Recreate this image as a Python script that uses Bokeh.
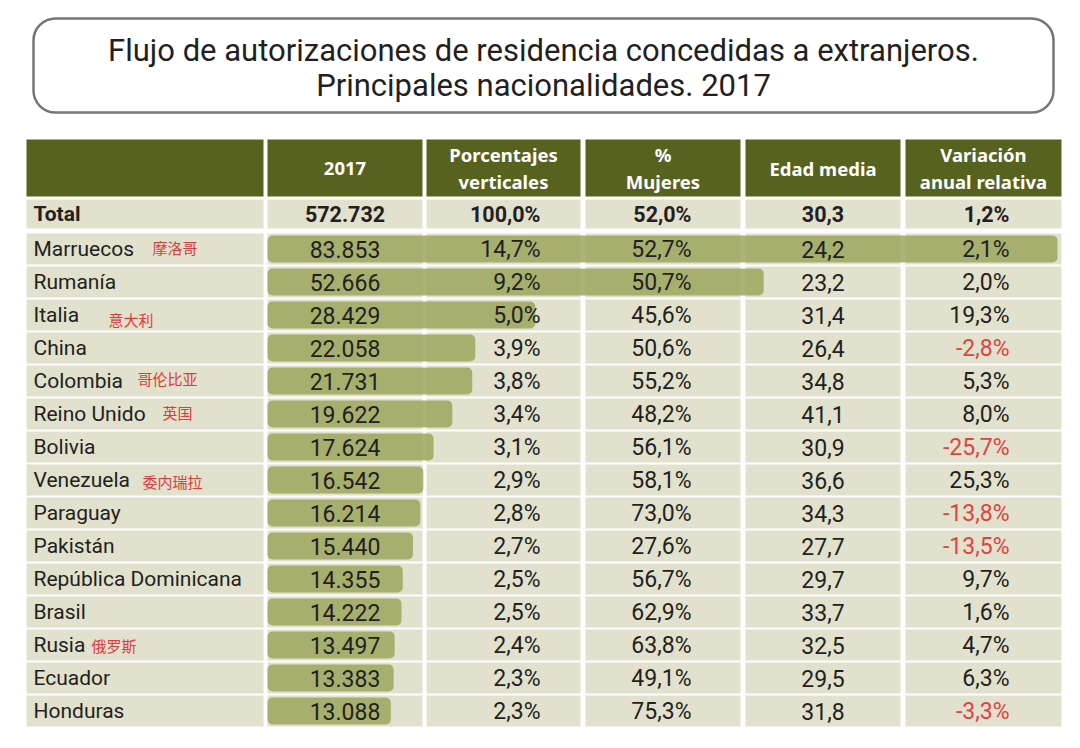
from bokeh.plotting import figure
from bokeh.models import Range1d, ColumnDataSource
from bokeh.core.properties import value
from bokeh.embed import file_html
from bokeh.resources import INLINE

# ---------------- data ----------------
title_lines = ["Flujo de autorizaciones de residencia concedidas a extranjeros.",
               "Principales nacionalidades. 2017"]
headers = ["", "2017", "Porcentajes\nverticales", "%\nMujeres", "Edad media", "Variación\nanual relativa"]

total_label = "Total"
total_value = 572732
total_pct_vert = 100.0
total_pct_mujeres = 52.0
total_edad = 30.3
total_variacion = 1.2

countries = ["Marruecos", "Rumanía", "Italia", "China", "Colombia", "Reino Unido", "Bolivia",
             "Venezuela", "Paraguay", "Pakistán", "República Dominicana", "Brasil", "Rusia",
             "Ecuador", "Honduras"]
values_2017 = [83853, 52666, 28429, 22058, 21731, 19622, 17624, 16542, 16214, 15440, 14355,
               14222, 13497, 13383, 13088]
pct_vert = [14.7, 9.2, 5.0, 3.9, 3.8, 3.4, 3.1, 2.9, 2.8, 2.7, 2.5, 2.5, 2.4, 2.3, 2.3]
pct_mujeres = [52.7, 50.7, 45.6, 50.6, 55.2, 48.2, 56.1, 58.1, 73.0, 27.6, 56.7, 62.9, 63.8, 49.1, 75.3]
edad_media = [24.2, 23.2, 31.4, 26.4, 34.8, 41.1, 30.9, 36.6, 34.3, 27.7, 29.7, 33.7, 32.5, 29.5, 31.8]
variacion = [2.1, 2.0, 19.3, -2.8, 5.3, 8.0, -25.7, 25.3, -13.8, -13.5, 9.7, 1.6, 4.7, 6.3, -3.3]

chinese_notes = {"Marruecos": "摩洛哥", "Italia": "意大利", "Colombia": "哥伦比亚",
                 "Reino Unido": "英国", "Venezuela": "委内瑞拉", "Rusia": "俄罗斯"}

# ---------------- layout (pixel space) ----------------
W, H = 1064, 732
X0, Y0 = 0, 0
col_left = [26, 267, 426, 585, 745, 905]
col_right = [263, 422, 580, 740, 900, 1061]
HEAD_TOP, HEAD_BOT = 139, 196
TOT_TOP, TOT_BOT = 199, 228
ROW0, PITCH, ROW_H = 248.5, 33.0, 31
BAR_H = 27
BAR_START, BAR_END = 267, 1057
note_x = {"Marruecos": 152, "Italia": 108, "Colombia": 137, "Reino Unido": 162,
          "Venezuela": 142, "Rusia": 91}
note_dy = {"Marruecos": -2, "Italia": 4, "Colombia": -3, "Reino Unido": -2,
           "Venezuela": 1, "Rusia": 0}

HEAD_COLOR = "#58621f"
CELL_COLOR = "#e1e1cd"
BAR_COLOR = "#9ea762"
TEXT_COLOR = "#231f20"
NEG_COLOR = "#e2413f"
FONT = "Roboto"
FS_NAME = "21px"
FS_NUM = "23px"

def fmt_int(v):
    return f"{v:,}".replace(",", ".")

def fmt_dec(v):
    return f"{v:.1f}".replace(".", ",")

def fmt_pct(v):
    return fmt_dec(v) + "%"

p = figure(width=W, height=H, x_range=Range1d(X0, X0 + W), y_range=Range1d(Y0 + H, Y0),
           output_backend="svg", toolbar_location=None, min_border=0,
           x_axis_location=None, y_axis_location=None)
p.grid.visible = False
p.outline_line_color = None
p.background_fill_color = "white"
p.border_fill_color = "white"

# extra range for bars: 0 -> BAR_START, max -> BAR_END
vmax = max(values_2017)
s = (BAR_END - BAR_START) / vmax
p.extra_x_ranges = {"val": Range1d(start=-(BAR_START - X0) / s, end=(X0 + W - BAR_START) / s)}

# title box
p.quad(left=[33], right=[1053], top=[18], bottom=[112], fill_color="white",
       line_color="#767676", line_width=2.5, border_radius=22)
p.text(x=[543, 543], y=[50, 85], text=title_lines, text_align="center", text_baseline="middle",
       text_font=value(FONT), text_font_size="31px", text_color=TEXT_COLOR)

# header cells
p.quad(left=col_left, right=col_right, top=[HEAD_TOP] * 6, bottom=[HEAD_BOT] * 6,
       fill_color=HEAD_COLOR, line_color=None)
hx = [(l + r) / 2 for l, r in zip(col_left, col_right)]
p.text(x=hx[1:], y=[(HEAD_TOP + HEAD_BOT) / 2] * 5, text=headers[1:], text_align="center",
       text_baseline="middle", text_font=value("Noto Sans"), text_font_size="18.5px",
       text_font_style="bold", text_color="white", text_line_height=1.05)

# total row + data row cells
row_y = [ROW0 + PITCH * i for i in range(len(countries))]
cl, cr, ct, cb = [], [], [], []
for j in range(6):
    cl.append(col_left[j]); cr.append(col_right[j]); ct.append(TOT_TOP); cb.append(TOT_BOT)
    for y in row_y:
        cl.append(col_left[j]); cr.append(col_right[j])
        ct.append(y - ROW_H / 2); cb.append(y + ROW_H / 2)
p.quad(left=cl, right=cr, top=ct, bottom=cb, fill_color=CELL_COLOR, line_color=None)

# bars
bars = ColumnDataSource(dict(y=row_y, v=values_2017))
p.hbar(y="y", left=0, right="v", height=BAR_H, source=bars, x_range_name="val",
       fill_color=BAR_COLOR, fill_alpha=0.88, line_color=None, border_radius=5)

# total row text
ty = (TOT_TOP + TOT_BOT) / 2
p.text(x=[33], y=[ty], text=[total_label], text_align="left", text_baseline="middle",
       text_font=value(FONT), text_font_size=FS_NAME, text_font_style="bold", text_color=TEXT_COLOR)
p.text(x=[hx[1], 540, 691, hx[4], 1009], y=[ty] * 5,
       text=[fmt_int(total_value), fmt_pct(total_pct_vert), fmt_pct(total_pct_mujeres),
             fmt_dec(total_edad), fmt_pct(total_variacion)],
       text_align=["center", "right", "right", "center", "right"], text_baseline="middle",
       text_font=value(FONT), text_font_size="21.5px", text_font_style="bold", text_color=TEXT_COLOR)

# data rows text
src = ColumnDataSource(dict(
    y=row_y,
    name=countries,
    v=[fmt_int(v) for v in values_2017],
    pv=[fmt_pct(v) for v in pct_vert],
    pm=[fmt_pct(v) for v in pct_mujeres],
    ed=[fmt_dec(v) for v in edad_media],
    va=[fmt_pct(v) for v in variacion],
    vc=[NEG_COLOR if v < 0 else TEXT_COLOR for v in variacion],
))
common = dict(source=src, y="y", text_baseline="middle", text_font=value(FONT))
p.text(x=33, text="name", text_align="left", text_color=TEXT_COLOR, text_font_size=FS_NAME, **common)
p.text(x=hx[1], text="v", text_align="center", text_color=TEXT_COLOR, text_font_size=FS_NUM, **common)
p.text(x=540, text="pv", text_align="right", text_color=TEXT_COLOR, text_font_size=FS_NUM, **common)
p.text(x=691, text="pm", text_align="right", text_color=TEXT_COLOR, text_font_size=FS_NUM, **common)
p.text(x=hx[4], text="ed", text_align="center", text_color=TEXT_COLOR, text_font_size=FS_NUM, **common)
p.text(x=1009, text="va", text_align="right", text_color="vc", text_font_size=FS_NUM, **common)

# chinese notes
nx, ny, nt = [], [], []
for i, c in enumerate(countries):
    if c in chinese_notes:
        nx.append(note_x[c]); ny.append(row_y[i] + note_dy[c]); nt.append(chinese_notes[c])
p.text(x=nx, y=ny, text=nt, text_align="left", text_baseline="middle",
       text_font=value("Noto Sans CJK SC"), text_font_size="15px", text_color="#e03a3a")

open("out.html", "w").write(file_html(p, INLINE))
